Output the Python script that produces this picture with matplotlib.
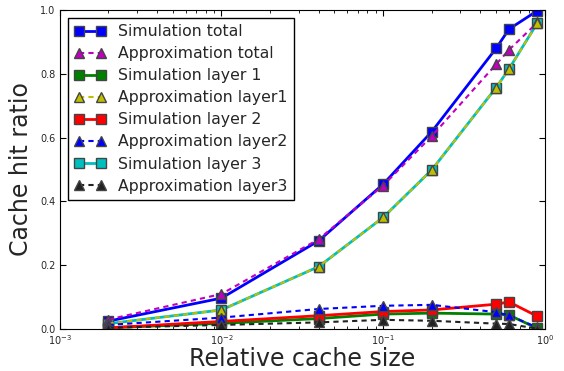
import numpy as np
import matplotlib
matplotlib.use('Agg')
import matplotlib.pyplot as plt

# relative cache sizes
cache_size = [0.002, 0.01, 0.04, 0.1, 0.2, 0.5, 0.6, 0.9]

sim_total = [0.025, 0.097, 0.277, 0.454, 0.619, 0.88, 0.94, 0.998]
approx_total = [0.03, 0.11, 0.282, 0.45, 0.605, 0.83, 0.875, 0.961]
sim_layer1 = [0.004, 0.018, 0.033, 0.047, 0.05, 0.047, 0.044, 0.002]
approx_layer1 = [0.017, 0.06, 0.196, 0.35, 0.499, 0.757, 0.815, 0.958]
sim_layer2 = [0.004, 0.024, 0.042, 0.055, 0.06, 0.078, 0.085, 0.04]
approx_layer2 = [0.013, 0.036, 0.063, 0.073, 0.076, 0.053, 0.043, 0.005]
sim_layer3 = [0.017, 0.06, 0.196, 0.35, 0.499, 0.757, 0.815, 0.96]
approx_layer3 = [0.004, 0.013, 0.021, 0.029, 0.026, 0.017, 0.016, 0.001]

text_color = '#262626'

fig = plt.figure(figsize=(5.64, 3.71), dpi=100, facecolor='white')
ax = fig.add_axes([0.106, 0.113, 0.86, 0.86])

edge = '#444444'
sim_kw = dict(linestyle='-', linewidth=2, marker='s', markersize=7,
              markeredgecolor=edge, markeredgewidth=1)
approx_kw = dict(linestyle='--', dashes=(2.5, 2), linewidth=1.5, marker='^',
                 markersize=7, markeredgecolor=edge, markeredgewidth=1)

# simulations first, approximations drawn on top
h_st, = ax.plot(cache_size, sim_total, color='#0000ff', label='Simulation total', **sim_kw)
h_s1, = ax.plot(cache_size, sim_layer1, color='#008000', label='Simulation layer 1', **sim_kw)
h_s2, = ax.plot(cache_size, sim_layer2, color='#ff0000', label='Simulation layer 2', **sim_kw)
h_s3, = ax.plot(cache_size, sim_layer3, color='#00bfbf', label='Simulation layer 3', **sim_kw)
h_at, = ax.plot(cache_size, approx_total, color='#bf00bf', label='Approximation total', **approx_kw)
h_a1, = ax.plot(cache_size, approx_layer1, color='#bfbf00', label='Approximation layer1', **approx_kw)
h_a2, = ax.plot(cache_size, approx_layer2, color='#0000ff', label='Approximation layer2', **approx_kw)
h_a3, = ax.plot(cache_size, approx_layer3, color='#222222', label='Approximation layer3', **approx_kw)

ax.set_xscale('log')
ax.set_xlim(1e-3, 1)
ax.set_ylim(0, 1)
ax.set_yticks([0.0, 0.2, 0.4, 0.6, 0.8, 1.0])

ax.tick_params(which='both', direction='in', top=True, right=True, labelsize=7,
               labelcolor=text_color, pad=3)
ax.tick_params(which='major', length=4)
ax.tick_params(which='minor', length=2)

ax.set_xlabel('Relative cache size', fontsize=17, labelpad=0, color=text_color)
ax.set_ylabel('Cache hit ratio', fontsize=17, labelpad=5, color=text_color)

handles = [h_st, h_at, h_s1, h_a1, h_s2, h_a2, h_s3, h_a3]
leg = ax.legend(handles=handles, loc='upper left', fontsize=11.3, numpoints=2,
                handlelength=2, fancybox=False, framealpha=1,
                borderpad=0.4, labelspacing=0.45, handletextpad=0.8)
leg.get_frame().set_edgecolor('black')
leg.get_frame().set_linewidth(1)
for t in leg.get_texts():
    t.set_color(text_color)

fig.savefig('out.png', dpi=100, facecolor='white')
